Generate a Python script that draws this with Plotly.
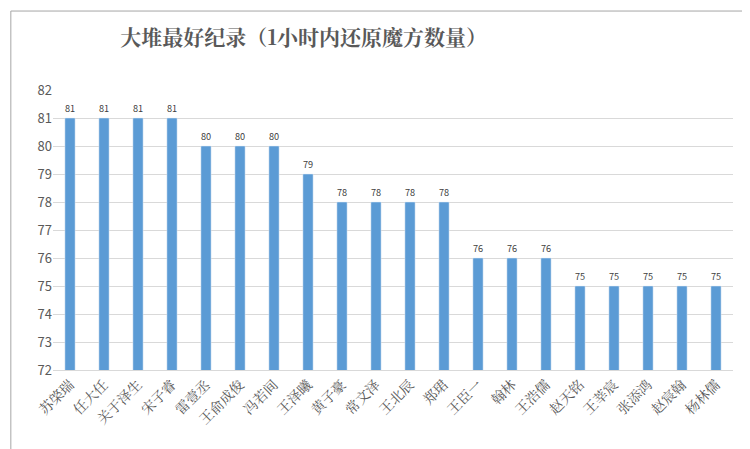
import plotly.graph_objects as go

names = ["苏棨瑞","任大任","关于泽生","宋子睿","雷壹丞","王俞成俊","冯若间","王泽曦","黄子豪","常文泽",
         "王北辰","郑珺","王臣一","翰林","王浩儒","赵天铭","王莘宸","张添鸿","赵宸翰","杨林儒"]
values = [81,81,81,81,80,80,80,79,78,78,78,78,76,76,76,75,75,75,75,75]
title = "大堆最好纪录（1小时内还原魔方数量）"

fig = go.Figure(go.Bar(x=names, y=values, marker_color="#5B9BD5", width=0.3,
                       text=values, textposition="outside", cliponaxis=False,
                       textfont=dict(size=13, color="#404040")))
fig.update_layout(
    width=750, height=449, paper_bgcolor="white", plot_bgcolor="white",
    margin=dict(l=45, r=25, t=82, b=87, autoexpand=False),
    title=dict(text="<b>"+title+"</b>", x=0.099, xref="paper", xanchor="left", y=0.935, yanchor="middle",
               font=dict(family="Noto Serif CJK SC, Noto Sans CJK SC, serif", size=21, color="#595959")),
    font=dict(family="Noto Sans CJK SC, sans-serif", color="#595959"),
    showlegend=False,
    shapes=[dict(type="rect", xref="paper", yref="paper", x0=-0.062, x1=1.025, y0=-0.30, y1=1.282,
                 line=dict(color="#A6A6A6", width=1))],
)
fig.update_yaxes(range=[72, 82], dtick=1, showgrid=True, gridcolor="#D9D9D9", zeroline=False,
                 tickfont=dict(size=13, color="#595959"), showline=False, ticks="", automargin=False)
fig.update_xaxes(tickangle=-45, tickfont=dict(size=14, color="#595959",
                 family="Noto Serif CJK SC, Noto Sans CJK SC, serif"),
                 showline=True, linecolor="#D9D9D9", ticks="", automargin=False)
fig.write_html("out.html")
